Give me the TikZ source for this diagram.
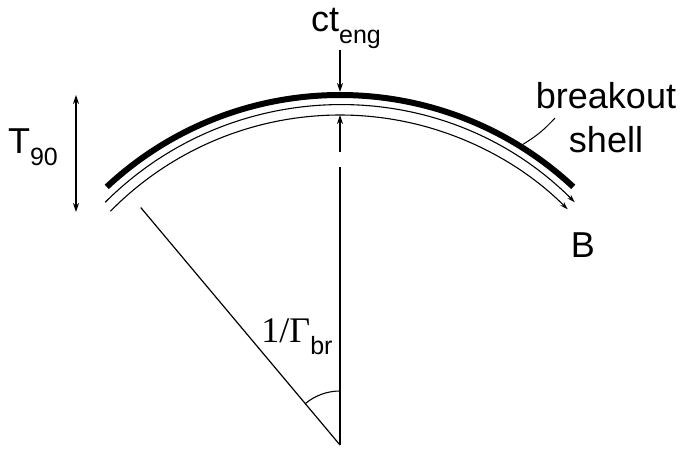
\documentclass[tikz,border=0pt]{standalone}
\usepackage{fontspec}
\setmainfont{Liberation Sans}
\newfontfamily\serifrm{Liberation Serif}
\usetikzlibrary{arrows.meta}
\newcommand{\tief}[1]{\raisebox{-12pt}{\fontsize{25}{25}\selectfont #1}}
\begin{document}
\begin{tikzpicture}[x=1pt,y=1pt,
  pfeil/.style={-{Stealth[length=9pt,width=6pt]}, line width=1.2pt},
  duenn/.style={-{Stealth[length=8pt,width=5pt]}, line width=1.1pt},
  every node/.style={font=\fontsize{36}{44}\selectfont}]
  \useasboundingbox (-340,-5) rectangle (342,445);

  % Spitze des Kegels und Mittelpunkt der Boegen
  \coordinate (O) at (0,0);
  \coordinate (M) at (0,8);
  \coordinate (L) at (130:310);
  \coordinate (V) at (90:278);

  % Radien und Winkel
  \draw[line width=1.2pt] (O) -- (L);
  \draw[line width=1.2pt] (O) -- (V);
  \draw[line width=1.1pt] ([shift={(90:54)}]O) arc[start angle=90, end angle=130, radius=54];

  % Schale (dick) und die beiden duennen Boegen
  \draw[line width=6pt] ([shift={(47:342)}]M) arc[start angle=47, end angle=133, radius=342];
  \draw[duenn] ([shift={(135:332)}]M) arc[start angle=135, end angle=45, radius=332];
  \draw[duenn] ([shift={(135.5:322)}]M) arc[start angle=135.5, end angle=45, radius=322];

  % Beschriftungen
  \node (ct) at (6,417) {ct\tief{eng}};
  \node (T) at (-307,298) {T\tief{90}};
  \node[align=center] (bs) at (266,327) {breakout\\shell};
  \node (B) at (243,200) {B};
  \node (G) at (-43,108) {{\serifrm 1/Γ}\tief{br}};

  % Pfeile fuer die Dicke
  \coordinate (c1) at (0,395);
  \coordinate (c2) at (0,353);
  \coordinate (c3) at (0,293);
  \coordinate (c4) at (0,330);
  \draw[pfeil] (c1) -- (c2);
  \draw[pfeil] (c3) -- (c4);

  % Pfeil fuer T90
  \coordinate (t1) at (-264,350);
  \coordinate (t2) at (-264,233);
  \draw[pfeil, {Stealth[length=9pt,width=6pt]}-{Stealth[length=9pt,width=6pt]}] (t1) -- (t2);

  % Zeiger zur Schale
  \coordinate (S) at ([shift={(58:345)}]M);
  \coordinate (E) at (215,327);
  \draw[line width=1pt] (S) to[bend right=8] (E);
\end{tikzpicture}
\end{document}
